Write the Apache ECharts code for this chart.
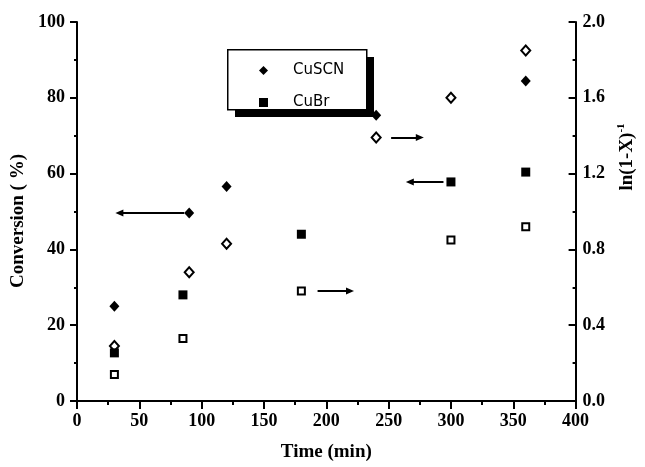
<!DOCTYPE html>
<html><head><meta charset="utf-8">
<script src="https://cdn.jsdelivr.net/npm/echarts@6/dist/echarts.min.js"></script>
<style>html,body{margin:0;padding:0;background:#fff}#c{width:645px;height:467px}</style>
</head><body><div id="c"></div>
<script>
// Conversion (%) — filled symbols, left axis
const timeSCN = [30, 90, 120, 240, 360];
const convSCN = [25.0, 49.6, 56.6, 75.4, 84.4];
const timeBr = [30, 85, 180, 300, 360];
const convBr = [12.7, 28.0, 44.0, 57.8, 60.4];
// ln(1-X)^-1 — open symbols, right axis
const timeSCNln = [30, 90, 120, 240, 300, 360];
const lnSCN = [0.29, 0.68, 0.83, 1.39, 1.60, 1.85];
const timeBrln = [30, 85, 180, 300, 360];
const lnBr = [0.14, 0.33, 0.58, 0.85, 0.92];
// annotation arrows [x from, y, x to]
const arrowsConv = [[86, 49.6, 34], [294, 57.8, 267]];
const arrowsLn = [[252, 1.39, 275], [193, 0.58, 219]];
const legendNames = ['CuSCN', 'CuBr'];
const xTitle = 'Time (min)';
const yLeftTitle = 'Conversion ( %)';

const serif = 'Liberation Serif';
const zip = (xs, ys) => xs.map((x, i) => [x, ys[i]]);
const arrowData = arr => arr.map(a => [{coord: [a[0], a[1]]}, {coord: [a[2], a[1]]}]);
const mk = arr => ({
  silent: true, symbol: ['none', 'triangle'], symbolSize: [7, 8],
  label: {show: false}, lineStyle: {color: '#000', width: 2, type: 'solid'},
  itemStyle: {color: '#000'},
  emphasis: {disabled: true}, animation: false, data: arrowData(arr)
});

const chart = echarts.init(document.getElementById('c'), null, {renderer: 'canvas'});
const lineAx = {show: true, lineStyle: {color: '#000', width: 2}};
chart.setOption({
  animation: false,
  backgroundColor: '#fff',
  grid: {left: 77, right: 59, top: 22, bottom: 64, containLabel: false},
  graphic: [
    {type: 'rect', left: 235, top: 57, z: 50, shape: {width: 139, height: 60}, style: {fill: '#000'}, silent: true},
    {type: 'rect', left: 227, top: 49, z: 51, shape: {width: 139, height: 60}, style: {fill: '#fff', stroke: '#000', lineWidth: 1.5}, silent: true}
  ],
  legend: {
    data: legendNames, orient: 'vertical', left: 227, top: 49, z: 60,
    padding: [14, 18, 9, 32], itemGap: 17, itemWidth: 9, itemHeight: 9,
    selectedMode: false,
    textStyle: {fontFamily: 'DejaVu Sans', fontSize: 15, color: '#000', padding: [0, 0, 0, 20]}
  },
  xAxis: {
    type: 'value', min: 0, max: 400, interval: 50,
    name: xTitle, nameLocation: 'middle', nameGap: 42,
    nameTextStyle: {fontFamily: serif, fontWeight: 'bold', fontSize: 19, color: '#000'},
    axisLine: lineAx,
    axisTick: {show: true, inside: false, length: 8, lineStyle: {color: '#000', width: 2}},
    minorTick: {show: true, splitNumber: 2, length: 4, lineStyle: {color: '#000', width: 2}},
    splitLine: {show: false},
    axisLabel: {fontFamily: serif, fontWeight: 'bold', fontSize: 18, color: '#000', margin: 11}
  },
  yAxis: [{
    type: 'value', min: 0, max: 100, interval: 20, position: 'left',
    name: yLeftTitle, nameLocation: 'middle', nameGap: 47, nameRotate: 90,
    nameTextStyle: {fontFamily: serif, fontWeight: 'bold', fontSize: 19, color: '#000', padding: [0, 19, 0, 0]},
    axisLine: lineAx,
    axisTick: {show: true, inside: false, length: 7, lineStyle: {color: '#000', width: 2}},
    minorTick: {show: true, splitNumber: 2, length: 3, lineStyle: {color: '#000', width: 2}},
    splitLine: {show: false},
    axisLabel: {fontFamily: serif, fontWeight: 'bold', fontSize: 18, color: '#000', margin: 12}
  }, {
    type: 'value', min: 0, max: 2.0, interval: 0.4, position: 'right',
    name: 'ln(1-X){sup|-1}', nameLocation: 'middle', nameGap: 36, nameRotate: 90,
    nameTextStyle: {fontFamily: serif, fontWeight: 'bold', fontSize: 19, color: '#000', padding: [0, 0, 0, 109],
      rich: {sup: {fontFamily: serif, fontWeight: 'bold', fontSize: 11, color: '#000', padding: [0, 0, 12, 0]}}},
    axisLine: lineAx,
    axisTick: {show: true, inside: true, length: 7, lineStyle: {color: '#000', width: 2}},
    minorTick: {show: true, splitNumber: 2, length: 3, lineStyle: {color: '#000', width: 2}},
    splitLine: {show: false},
    axisLabel: {fontFamily: serif, fontWeight: 'bold', fontSize: 18, color: '#000', margin: 7,
      formatter: v => v.toFixed(1)}
  }],
  series: [{
    name: 'CuSCN', type: 'scatter', yAxisIndex: 0, symbol: 'diamond', symbolSize: [10, 11],
    itemStyle: {color: '#000', opacity: 1}, data: zip(timeSCN, convSCN), z: 3,
    markLine: mk(arrowsConv)
  }, {
    name: 'CuBr', type: 'scatter', yAxisIndex: 0, symbol: 'rect', symbolSize: 9,
    itemStyle: {color: '#000', opacity: 1}, data: zip(timeBr, convBr), z: 3
  }, {
    name: 'CuSCN ln', type: 'scatter', yAxisIndex: 1, symbol: 'emptyDiamond', symbolSize: [9, 10],
    itemStyle: {color: '#000', borderColor: '#000', borderWidth: 1.8, opacity: 1}, data: zip(timeSCNln, lnSCN), z: 2,
    markLine: mk(arrowsLn)
  }, {
    name: 'CuBr ln', type: 'scatter', yAxisIndex: 1, symbol: 'emptyRect', symbolSize: 7,
    itemStyle: {color: '#000', borderColor: '#000', borderWidth: 1.8, opacity: 1}, data: zip(timeBrln, lnBr), z: 2
  }]
});
</script></body></html>
